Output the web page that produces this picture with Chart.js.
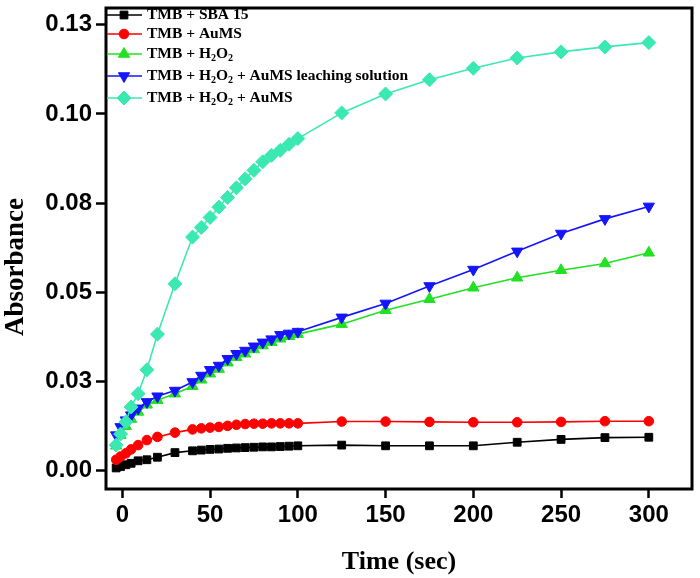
<!DOCTYPE html>
<html><head><meta charset="utf-8">
<script src="https://cdn.jsdelivr.net/npm/chart.js@4/dist/chart.umd.min.js"></script>
<style>html,body{margin:0;padding:0;background:#fff}#wrap{width:700px;height:578px}</style>
</head><body><div id="wrap"><canvas id="c" width="700" height="578"></canvas></div>
<script>
const timeSec = [-3.5,-1,2,5,9,14,20,30,40,45,50,55,60,65,70,75,80,85,90,95,100,125,150,175,200,225,250,275,300];
const tmbSba15 = [0.0008,0.0012,0.0017,0.0021,0.0028,0.0031,0.0038,0.0051,0.0056,0.0058,0.0060,0.0061,0.0063,0.0064,0.0065,0.0066,0.0067,0.0067,0.0068,0.0069,0.0070,0.0072,0.0070,0.0070,0.0070,0.0080,0.0088,0.0093,0.0094];
const tmbAuMS = [0.0031,0.0040,0.0049,0.0060,0.0072,0.0086,0.0095,0.0107,0.0116,0.0119,0.0121,0.0123,0.0126,0.0129,0.0131,0.0132,0.0132,0.0133,0.0133,0.0133,0.0133,0.0138,0.0138,0.0137,0.0136,0.0136,0.0137,0.0139,0.0139];
const tmbH2O2 = [0.0070,0.0100,0.0125,0.0145,0.0165,0.0185,0.0198,0.0216,0.0237,0.0255,0.0272,0.0285,0.0303,0.0318,0.0328,0.0340,0.0351,0.0360,0.0370,0.0377,0.0383,0.0411,0.0450,0.0481,0.0513,0.0541,0.0562,0.0581,0.0611];
const tmbH2O2Leach = [0.0100,0.0123,0.0142,0.0156,0.0175,0.0193,0.0209,0.0225,0.0249,0.0267,0.0283,0.0295,0.0314,0.0328,0.0337,0.0349,0.0360,0.0369,0.0381,0.0385,0.0390,0.0430,0.0469,0.0518,0.0564,0.0615,0.0665,0.0706,0.0741];
const tmbH2O2AuMS = [0.0072,0.0103,0.0137,0.0179,0.0216,0.0283,0.0383,0.0524,0.0655,0.0682,0.0710,0.0739,0.0766,0.0793,0.0818,0.0842,0.0866,0.0884,0.0898,0.0915,0.0931,0.1003,0.1056,0.1096,0.1128,0.1157,0.1174,0.1188,0.1200];
const seriesNames = ['TMB + SBA 15','TMB + AuMS','TMB + H\u2082O\u2082','TMB + H\u2082O\u2082 + AuMS leaching solution','TMB + H\u2082O\u2082 + AuMS'];
const xTickValues = [0,50,100,150,200,250,300];
const yTickValues = [0,0.025,0.05,0.075,0.1,0.125];
const yTickLabels = ['0.00','0.03','0.05','0.08','0.10','0.13'];
const xTitle = 'Time (sec)';
const yTitle = 'Absorbance';

const seriesData = [tmbSba15, tmbAuMS, tmbH2O2, tmbH2O2Leach, tmbH2O2AuMS];
const styles = [
  {color:'#000000', pointStyle:'rect', radius:5.5, rotation:0, order:4},
  {color:'#ff0000', pointStyle:'circle', radius:4.8, rotation:0, order:3},
  {color:'#22e022', pointStyle:'triangle', radius:6.5, rotation:0, order:2},
  {color:'#1414ff', pointStyle:'triangle', radius:6.5, rotation:180, order:1},
  {color:'#3ae8b2', pointStyle:'rectRot', radius:7, rotation:0, order:0}
];

const datasets = seriesData.map((arr, i) => ({
  label: seriesNames[i],
  data: timeSec.map((t, k) => ({x: t, y: arr[k]})),
  borderColor: styles[i].color,
  backgroundColor: styles[i].color,
  pointBackgroundColor: styles[i].color,
  pointBorderColor: styles[i].color,
  pointBorderWidth: 1,
  pointStyle: styles[i].pointStyle,
  pointRadius: styles[i].radius,
  pointRotation: styles[i].rotation,
  borderWidth: 1.6,
  tension: 0,
  fill: false,
  clip: false,
  order: styles[i].order
}));

function drawRich(ctx, text, x, y, size) {
  let cx = x;
  for (const ch of text) {
    if (ch === '\u2082') {
      ctx.font = 'bold ' + Math.round(size*0.62) + 'px "Liberation Serif"';
      ctx.fillText('2', cx, y + size*0.3);
      cx += ctx.measureText('2').width;
    } else {
      ctx.font = 'bold ' + size + 'px "Liberation Serif"';
      ctx.fillText(ch, cx, y);
      cx += ctx.measureText(ch).width;
    }
  }
}

const decorPlugin = {
  id: 'decor',
  afterDraw(chart) {
    const ctx = chart.ctx, a = chart.chartArea;
    ctx.save();
    ctx.strokeStyle = '#000';
    ctx.lineWidth = 3;
    ctx.strokeRect(a.left, a.top, a.right - a.left, a.bottom - a.top);
    const rows = [15, 34, 54, 76, 98];
    ctx.textBaseline = 'middle';
    ctx.textAlign = 'left';
    for (let i = 0; i < seriesNames.length; i++) {
      const y = rows[i];
      const s = styles[i];
      ctx.strokeStyle = s.color;
      ctx.lineWidth = 1.6;
      ctx.beginPath(); ctx.moveTo(a.left + 1, y); ctx.lineTo(a.left + 36, y); ctx.stroke();
      ctx.fillStyle = s.color;
      ctx.strokeStyle = s.color;
      ctx.lineWidth = 1;
      Chart.helpers.drawPoint(ctx, {pointStyle: s.pointStyle, radius: s.radius, rotation: s.rotation, borderWidth: 1}, a.left + 18, y);
      ctx.fillStyle = '#000';
      drawRich(ctx, seriesNames[i], a.left + 41, y, 15.5);
    }
    ctx.fillStyle = '#000';
    ctx.textAlign = 'center';
    ctx.textBaseline = 'middle';
    ctx.font = 'bold 26px "Liberation Serif"';
    ctx.fillText(xTitle, 399, 562);
    ctx.translate(16, 267);
    ctx.rotate(-Math.PI/2);
    ctx.font = 'bold 27px "Liberation Serif"';
    ctx.fillText(yTitle, 0, 0);
    ctx.restore();
  }
};

new Chart(document.getElementById('c').getContext('2d'), {
  type: 'line',
  data: {datasets},
  options: {
    responsive: false,
    animation: false,
    events: [],
    layout: {padding: {top: 5, right: 6, left: 0, bottom: 0}},
    plugins: {legend: {display: false}, tooltip: {enabled: false}},
    scales: {
      x: {
        type: 'linear', min: -9.3, max: 324.6,
        afterBuildTicks: s => { s.ticks = xTickValues.map(v => ({value: v})); },
        afterFit: s => { s.height = 89; s.paddingLeft = 0; s.paddingRight = 0; },
        ticks: {color: '#000', font: {family: 'Liberation Sans', weight: 'bold', size: 24}, padding: 3, maxRotation: 0, autoSkip: false, callback: v => String(v)},
        grid: {drawOnChartArea: false, tickLength: 9, tickWidth: 2.5, tickColor: '#000'},
        border: {display: false}
      },
      y: {
        type: 'linear', min: -0.0051, max: 0.1297,
        afterBuildTicks: s => { s.ticks = yTickValues.map(v => ({value: v})); },
        afterFit: s => { s.width = 106; s.paddingTop = 0; s.paddingBottom = 0; },
        ticks: {color: '#000', font: {family: 'Liberation Sans', weight: 'bold', size: 24}, padding: 4, autoSkip: false, callback: (v, i) => yTickLabels[i]},
        grid: {drawOnChartArea: false, tickLength: 10, tickWidth: 2.5, tickColor: '#000'},
        border: {display: false}
      }
    }
  },
  plugins: [decorPlugin]
});
</script></body></html>
